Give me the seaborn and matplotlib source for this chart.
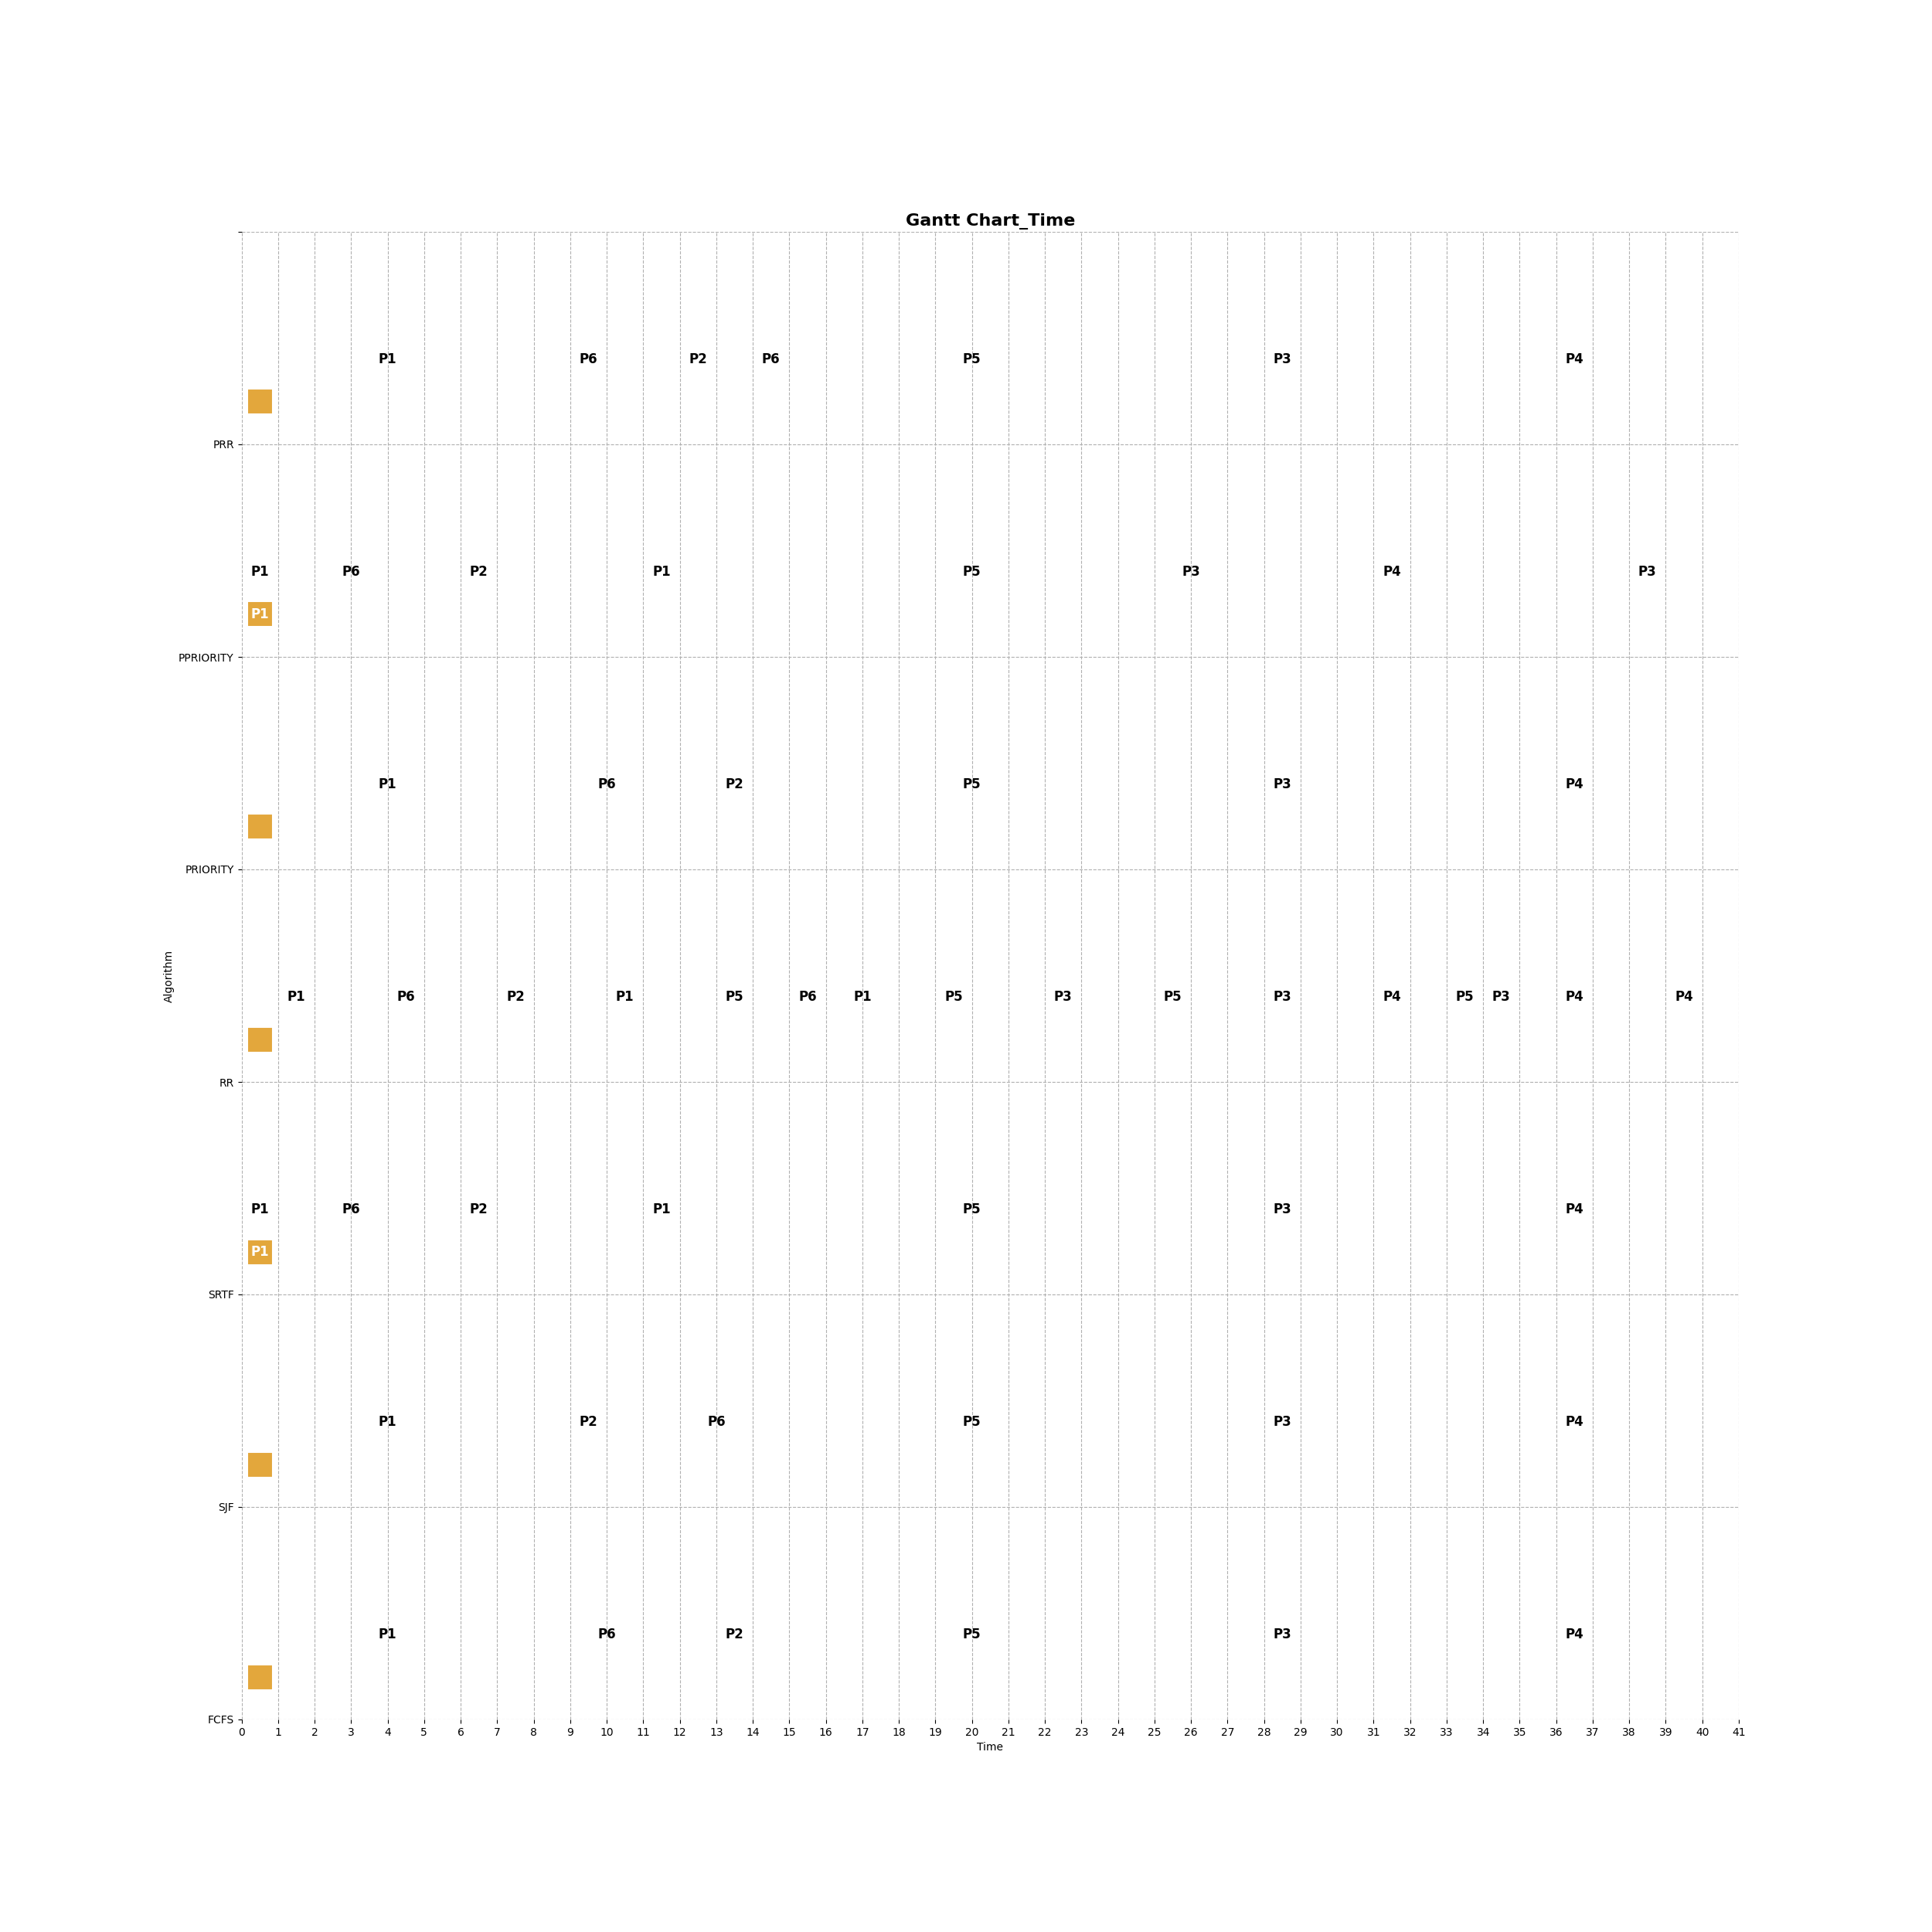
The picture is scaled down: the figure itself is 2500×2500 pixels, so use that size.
import numpy as np
import pandas as pd
import seaborn as sns
import matplotlib.pyplot as plt

# Schedules (process, start, duration), bottom row first
algorithms = ['FCFS', 'SJF', 'SRTF', 'RR', 'PRIORITY', 'PPRIORITY', 'PRR']

fcfs_proc = ['P1', 'P6', 'P2', 'P5', 'P3', 'P4']
fcfs_start = [0, 8, 12, 15, 25, 32]
fcfs_dur = [8, 4, 3, 10, 7, 9]

sjf_proc = ['P1', 'P2', 'P6', 'P5', 'P3', 'P4']
sjf_start = [0, 8, 11, 15, 25, 32]
sjf_dur = [8, 3, 4, 10, 7, 9]

srtf_proc = ['P1', 'P6', 'P2', 'P1', 'P5', 'P3', 'P4']
srtf_start = [0, 1, 5, 8, 15, 25, 32]
srtf_dur = [1, 4, 3, 7, 10, 7, 9]

rr_proc = ['P1', 'P6', 'P2', 'P1', 'P5', 'P6', 'P1', 'P5', 'P3', 'P5',
           'P3', 'P4', 'P5', 'P3', 'P4', 'P4']
rr_start = [0, 3, 6, 9, 12, 15, 16, 18, 21, 24, 27, 30, 33, 34, 35, 38]
rr_dur = [3, 3, 3, 3, 3, 1, 2, 3, 3, 3, 3, 3, 1, 1, 3, 3]

prio_proc = ['P1', 'P6', 'P2', 'P5', 'P3', 'P4']
prio_start = [0, 8, 12, 15, 25, 32]
prio_dur = [8, 4, 3, 10, 7, 9]

pprio_proc = ['P1', 'P6', 'P2', 'P1', 'P5', 'P3', 'P4', 'P3']
pprio_start = [0, 1, 5, 8, 15, 25, 27, 36]
pprio_dur = [1, 4, 3, 7, 10, 2, 9, 5]

prr_proc = ['P1', 'P6', 'P2', 'P6', 'P5', 'P3', 'P4']
prr_start = [0, 8, 11, 14, 15, 25, 32]
prr_dur = [8, 3, 3, 1, 10, 7, 9]

# label shown inside the small marker block of each row
marker_label = ['', '', 'P1', '', '', 'P1', '']

schedules = [
    (fcfs_proc, fcfs_start, fcfs_dur),
    (sjf_proc, sjf_start, sjf_dur),
    (srtf_proc, srtf_start, srtf_dur),
    (rr_proc, rr_start, rr_dur),
    (prio_proc, prio_start, prio_dur),
    (pprio_proc, pprio_start, pprio_dur),
    (prr_proc, prr_start, prr_dur),
]

rows = []
for i, (alg, (procs, starts, durs)) in enumerate(zip(algorithms, schedules)):
    for p, s, d in zip(procs, starts, durs):
        rows.append({'algorithm': alg, 'row': i, 'process': p, 'start': s, 'duration': d})
df = pd.DataFrame(rows)
df['center'] = df['start'] + df['duration'] / 2

total_time = 41

sns.set_style('white')
plt.rcParams['font.family'] = ['DejaVu Sans']
plt.rcParams.update({'text.color': 'black', 'axes.labelcolor': 'black',
                     'xtick.color': 'black', 'ytick.color': 'black'})

fig, ax = plt.subplots(figsize=(25, 25), dpi=100)

# small marker block per row
ax.barh(np.arange(len(algorithms)) + 0.2, 0.7, left=0.15, height=0.12,
        color='#E3A73C', edgecolor='white', linewidth=1.5, zorder=3)
for i, lab in enumerate(marker_label):
    if lab:
        ax.text(0.5, i + 0.2, lab, ha='center', va='center', color='white',
                fontsize=12, fontweight='bold', zorder=4)

# process labels centred on each slice
for _, r in df.iterrows():
    ax.text(r['center'], r['row'] + 0.4, r['process'], ha='center', va='center',
            color='black', fontsize=12, fontweight='bold', zorder=4)

ax.set_xlim(0, total_time)
ax.set_ylim(0, len(algorithms))
ax.set_xticks(range(total_time + 1))
ax.set_yticks(range(len(algorithms) + 1))
ax.set_yticklabels(algorithms + [''])
ax.tick_params(axis='both', labelsize=10, length=3.5, width=0.8, color='black',
               bottom=True, left=True)
ax.grid(True, linestyle='--', color='#b0b0b0', linewidth=0.8)
ax.set_axisbelow(True)
sns.despine(ax=ax, left=True, bottom=True)

ax.set_xlabel('Time', fontsize=10)
ax.set_ylabel('Algorithm', fontsize=10)
ax.set_title('Gantt Chart_Time', fontsize=16, fontweight='bold')

plt.savefig('out.png', dpi=100)
